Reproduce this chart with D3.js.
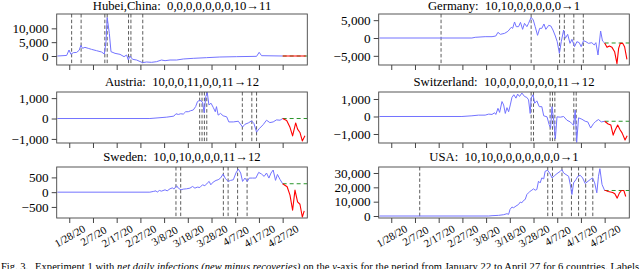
<!DOCTYPE html>
<html>
<head>
<meta charset="utf-8">
<script src="https://cdn.jsdelivr.net/npm/d3@7"></script>
<style>
  body { margin: 0; background: #fff; }
  svg { display: block; font-family: "Liberation Serif", "Times New Roman", serif; }
</style>
</head>
<body>
<div id="graph"></div>
<script>
'use strict';

// x values are days after 1/22/20, y values are net daily infections
const tickDays = [6, 16, 26, 36, 46, 56, 66, 76, 86, 96];

const hubeiObserved = [[1,0],[4.9,200],[5.9,2170],[6.7,600],[7.7,1200],[9.1,1300],[10.2,2100],[10.9,3850],[11.6,2770],[12.6,3130],[14,2770],[15.4,2400],[17.5,1930],[19.6,1450],[20.8,720],[21.5,5180],[22,13900],[22.9,8190],[23.6,1570],[25.3,960],[27.4,600],[29.1,-240],[30.2,360],[30.9,-1450],[31.6,0],[32.7,-1200],[34.4,-1450],[36.9,-2400],[38.6,-2170],[40.7,-2290],[42.8,-2050],[44.9,-1450],[46.4,-1690],[48.5,-1450],[51.3,-1450],[54.1,-1080],[58.3,-840],[63.9,-600],[69.5,-360],[76.6,-240],[85,-120],[86.1,1330],[87.1,120],[96,0]];
const hubeiForecast = [[96,0],[105.8,0]];
const hubeiEvents = [7, 11, 21, 22, 31, 32, 37];

const germanyObserved = [[1,0],[40,0],[41.4,190],[45.6,370],[48.5,370],[50.1,560],[51,1590],[52,1030],[53.8,1310],[55.2,1870],[56.6,2990],[57.2,2710],[58,4490],[58.7,3180],[59.7,3180],[60.5,4390],[61.4,2430],[62.2,4110],[63.2,3180],[63.9,4110],[65,5800],[65.9,5050],[66.7,3180],[67.7,750],[68.6,2710],[69.5,2710],[70.4,3930],[71.2,2430],[72.4,3550],[73.3,3370],[74.2,2240],[75.2,560],[76,-1030],[76.9,-4300],[77.7,-1030],[78.7,2240],[79.4,-90],[80.4,1030],[81.4,-1500],[82.2,-370],[83.3,-2430],[84.3,-1030],[85.3,-1310],[86.1,-2430],[87.1,-750],[88.1,-1030],[89.2,-1500],[90.6,-1310],[91.6,-1960],[92.3,-1310],[93.2,-4770],[94.3,1960],[95.1,-840],[96,-1400]];
const germanyForecast = [[96,-1400],[97,-2620],[98,-2240],[99.1,-2620],[100.2,-3830],[101.2,-7200],[101.9,-2900],[102.6,-1500],[103.6,-1500],[104.4,-2430],[105.4,-6000]];
const germanyEvents = [27, 65, 77, 79, 83, 87];

const austriaObserved = [[1,0],[40,0],[47.1,67],[50.1,117],[51,233],[52,200],[53,233],[54.1,217],[55.1,333],[56.2,333],[57.2,383],[58.3,417],[59.3,583],[60.1,833],[61.1,900],[62.2,800],[62.9,283],[63.6,1083],[64.2,1280],[64.9,667],[65.8,750],[66.7,550],[67.6,333],[68.1,583],[68.8,167],[69.8,250],[70.9,133],[72.4,83],[73.3,-167],[75.2,-167],[77.3,-133],[79.1,-417],[80.1,-283],[81.5,-217],[82.9,-117],[83.9,-250],[85,-667],[86.1,-500],[87.8,-300],[89.2,-83],[90.6,-200],[92,-167],[93.4,-67],[94.9,-83],[96,0]];
const austriaForecast = [[96,0],[97.7,-100],[99.1,-433],[100.2,-850],[101.5,-217],[102.3,-517],[103.3,-683],[104.3,-1100],[105.4,-850]];
const austriaEvents = [61, 62, 63, 64, 79, 83, 85];

const switzerlandObserved = [[1,0],[35.8,0],[40,39],[42.8,78],[45.6,78],[47.1,136],[48.5,117],[49.6,214],[50.1,117],[51,466],[51.7,233],[52.7,854],[53.4,660],[54.1,175],[54.8,505],[55.5,272],[56.2,660],[56.9,1088],[57.7,1243],[58.6,1049],[59.3,1282],[60.1,1146],[61.1,1340],[62.2,1146],[63.2,1088],[63.9,952],[64.6,175],[65,1049],[65.8,1243],[66.5,757],[67.4,893],[68.4,563],[69.5,563],[70.3,39],[71.7,-19],[72.6,-466],[73.2,-660],[73.8,563],[74.5,-214],[75.2,-1282],[75.9,-19],[77.3,-39],[78.7,0],[80.1,-214],[81.5,-311],[82.2,-408],[82.9,-505],[83.6,369],[84.2,-1480],[85,-78],[86.4,-155],[87.8,-272],[88.9,-311],[90.1,-660],[91.3,-408],[92.3,-272],[93.4,-175],[94.6,-311],[96,-272]];
const switzerlandForecast = [[96,-272],[97.5,-427],[98.6,-486],[99.6,-1068],[100.3,-816],[101.5,-486],[102.5,-757],[103.4,-951],[104.6,-1340],[105.5,-1107]];
const switzerlandEvents = [65, 66, 73, 74, 75, 83, 84];

const swedenObserved = [[1,0],[40,0],[41.4,23],[42.6,45],[43.1,0],[44,57],[44.9,34],[46.4,80],[47.3,45],[48.5,114],[49.6,148],[50.1,102],[51.3,216],[52,136],[53.1,80],[54.1,102],[55.5,114],[56.9,136],[58,193],[59,136],[60,170],[61.1,159],[62.2,250],[63.2,216],[64.2,307],[65,364],[65.7,250],[66.7,341],[67.9,398],[68.8,420],[69.8,477],[70.9,613],[71.9,454],[73.1,364],[74,398],[75.2,420],[76.3,648],[77.3,784],[78.3,648],[79.1,364],[80.1,477],[81.1,364],[81.9,477],[83.3,477],[84.7,477],[85.9,670],[87.1,613],[88.2,534],[89.2,648],[90.2,477],[91.1,648],[92,750],[93,400],[93.8,600],[94.9,430],[96,285]];
const swedenForecast = [[96,285],[97.9,182],[99.1,-102],[100.2,-613],[101.2,68],[102.3,-330],[103.3,-409],[104.3,-841],[105.1,-636]];
const swedenEvents = [51, 53, 71, 73, 77, 81];

const usaObserved = [[1,0],[47.1,0],[48.5,230],[51.3,460],[53.4,920],[54.8,1620],[55.5,1150],[56.1,4620],[56.9,6240],[57.6,5780],[58.6,6930],[59.7,8090],[60.4,9700],[61.1,9240],[61.8,10860],[62.5,11550],[63.2,15020],[63.9,16170],[64.6,17330],[65.3,18020],[66,18940],[66.7,18020],[67.4,18480],[68.1,24260],[68.8,23100],[69.5,26570],[70.3,25870],[70.9,31190],[71.9,31880],[72.8,30030],[73.8,26570],[74.9,28180],[75.9,29570],[77.3,31190],[78,32340],[78.7,30030],[79.7,28880],[80.8,27720],[81.5,21950],[82.2,15020],[82.9,23100],[83.9,25410],[84.7,27720],[85.7,28410],[86.7,26570],[87.8,22640],[89,24260],[89.9,25410],[90.9,26570],[91.8,23100],[92.7,16170],[93.4,27720],[94,33000],[94.9,21950],[96,17800]];
const usaForecast = [[96,17800],[96.5,17790],[97.5,17090],[99.4,16400],[100.3,15480],[101.3,12470],[102.2,15940],[103.1,17790],[104.1,17790],[104.9,13630]];
const usaEvents = [18, 72, 74, 78, 82, 85, 88, 91];

const titles = [
  'Hubei,China:\u00a0 0,0,0,0,0,0,0,10\u219211',
  'Germany:\u00a0 10,10,0,0,0,0,0\u21921',
  'Austria:\u00a0 10,0,0,11,0,0,11\u219212',
  'Switzerland:\u00a0 10,0,0,0,0,0,0,11\u219212',
  'Sweden:\u00a0 10,0,10,0,0,0,11\u219212',
  'USA:\u00a0 10,10,0,0,0,0,0,0,0\u21921',
];
const yDomains = [[-3250, 15180], [-7570, 6730], [-1200, 1300], [-1515, 1400], [-875, 852], [-1385, 34180]];
const yTicks = [[0, 5000, 10000], [-5000, 0, 5000], [-1000, 0, 1000], [-1000, 0, 1000], [-500, 0, 500], [0, 10000, 20000, 30000]];

const X_DOMAIN = [0.7, 106.4];
const COL_X = [56.7, 378.7];
const ROW_Y = [14, 92, 167];
const TITLE_Y = [10, 86, 161];
const BOX_W = 250.6;
const BOX_H = 51;
const BLUE = '#7373ff';

let svgContainer = d3.select('#graph')
  .append('svg')
  .attr('width', 640)
  .attr('height', 269);

const panels = [
  { observed: hubeiObserved, forecast: hubeiForecast, events: hubeiEvents },
  { observed: germanyObserved, forecast: germanyForecast, events: germanyEvents },
  { observed: austriaObserved, forecast: austriaForecast, events: austriaEvents },
  { observed: switzerlandObserved, forecast: switzerlandForecast, events: switzerlandEvents },
  { observed: swedenObserved, forecast: swedenForecast, events: swedenEvents },
  { observed: usaObserved, forecast: usaForecast, events: usaEvents },
].map((p, i) => Object.assign(p, {
  title: titles[i], yDomain: yDomains[i], yTicks: yTicks[i], col: i % 2, row: Math.floor(i / 2),
}));

function dateLabel(d) {
  let dt = new Date(2020, 0, 22 + d);
  return `${dt.getMonth() + 1}/${dt.getDate()}/20`;
}

function drawPanel(p, i) {
  let left = COL_X[p.col];
  let top = ROW_Y[p.row];
  let x = d3.scaleLinear().domain(X_DOMAIN).range([left, left + BOX_W]);
  let y = d3.scaleLinear().domain(p.yDomain).range([top + BOX_H, top]);
  let g = svgContainer.append('g');

  g.append('clipPath')
    .attr('id', `clip${i}`)
    .append('rect')
    .attr('x', left).attr('y', top)
    .attr('width', BOX_W).attr('height', BOX_H);

  let plot = g.append('g').attr('clip-path', `url(#clip${i})`);
  let line = d3.line().x(d => x(d[0])).y(d => y(d[1]));

  plot.selectAll('.event')
    .data(p.events)
    .enter()
    .append('line')
      .attr('x1', d => x(d)).attr('x2', d => x(d))
      .attr('y1', top).attr('y2', top + BOX_H)
      .attr('stroke', '#333')
      .attr('stroke-width', 0.8)
      .attr('stroke-dasharray', '3.5,2.2');

  let last = p.observed[p.observed.length - 1];
  plot.append('path')
    .attr('d', line([last, [X_DOMAIN[1], last[1]]]))
    .attr('fill', 'none')
    .attr('stroke', '#2a952a')
    .attr('stroke-width', 1)
    .attr('stroke-dasharray', '4,3');

  plot.append('path')
    .attr('d', line(p.observed))
    .attr('fill', 'none')
    .attr('stroke', BLUE)
    .attr('stroke-width', 1)
    .attr('stroke-linejoin', 'round');

  plot.append('path')
    .attr('d', line(p.forecast))
    .attr('fill', 'none')
    .attr('stroke', '#ff0000')
    .attr('stroke-width', 1.1)
    .attr('stroke-linejoin', 'round');

  g.append('rect')
    .attr('x', left).attr('y', top)
    .attr('width', BOX_W).attr('height', BOX_H)
    .attr('fill', 'none')
    .attr('stroke', '#444')
    .attr('stroke-width', 0.9);

  let yAxis = d3.axisLeft(y)
    .tickValues(p.yTicks)
    .tickSize(5)
    .tickPadding(3)
    .tickFormat(d3.format(','));
  let ya = g.append('g')
    .attr('transform', `translate(${left}, 0)`)
    .call(yAxis);
  ya.select('.domain').remove();
  ya.attr('font-family', null).attr('font-size', 13.2);
  ya.selectAll('line').attr('stroke', '#444');

  let xAxis = d3.axisBottom(x)
    .tickValues(tickDays)
    .tickSize(5)
    .tickFormat(p.row == 2 ? dateLabel : '');
  let xa = g.append('g')
    .attr('transform', `translate(0, ${top + BOX_H})`)
    .call(xAxis);
  xa.select('.domain').remove();
  xa.attr('font-family', null).attr('font-size', 11);
  xa.selectAll('line').attr('stroke', '#444');
  xa.selectAll('text')
    .attr('y', 0)
    .attr('dy', '0.35em')
    .attr('transform', 'translate(0, 18) rotate(-30)');

  svgContainer.append('text')
    .attr('x', left + BOX_W / 2)
    .attr('y', TITLE_Y[p.row])
    .attr('text-anchor', 'middle')
    .style('font-size', '12.7px')
    .text(p.title);
}

panels.forEach(drawPanel);

svgContainer.append('text')
  .attr('x', 1)
  .attr('y', 270)
  .style('font-size', '10.5px')
  .text('Fig. 3.');

let caption = svgContainer.append('text')
  .attr('x', 35)
  .attr('y', 270)
  .attr('textLength', 604)
  .attr('lengthAdjust', 'spacing')
  .style('font-size', '10.5px');
caption.append('tspan').text('Experiment 1 with ');
caption.append('tspan').style('font-style', 'italic').text('net daily infections (new minus recoveries)');
caption.append('tspan').text(' on the ');
caption.append('tspan').style('font-style', 'italic').text('y');
caption.append('tspan').text('-axis for the period from January 22 to April 27 for 6 countries. Labels');
</script>
</body>
</html>
